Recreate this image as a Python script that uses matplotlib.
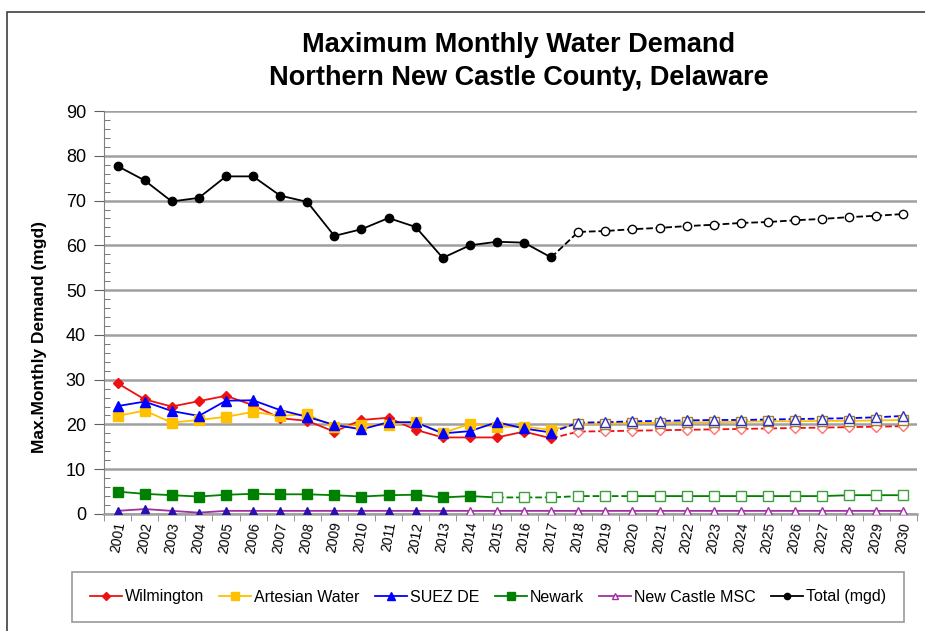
import numpy as np
import matplotlib
matplotlib.use("Agg")
import matplotlib.pyplot as plt
from matplotlib.patches import Rectangle
from matplotlib.ticker import MultipleLocator

plt.rcParams["font.family"] = ["Liberation Sans", "DejaVu Sans"]

years = [str(y) for y in range(2001, 2031)]

# 2001-2017 reported, 2018-2030 projected
wilmington = [29.2, 25.6, 24.0, 25.2, 26.4, 24.3, 21.4, 20.8, 18.4, 21.0, 21.5, 18.8, 17.1, 17.1, 17.1,
              18.4, 16.9, 18.4, 18.5, 18.6, 18.7, 18.8, 18.9, 19.0, 19.1, 19.2, 19.3, 19.4, 19.5, 19.6]
artesian = [21.9, 23.1, 20.4, 21.0, 21.7, 22.8, 21.9, 22.3, 19.4, 19.9, 19.9, 20.6, 18.1, 20.1, 19.5,
            19.5, 18.8, 20.1, 20.2, 20.3, 20.4, 20.5, 20.5, 20.6, 20.7, 20.7, 20.8, 20.8, 20.9, 21.0]
suez = [24.1, 25.1, 23.0, 21.9, 25.3, 25.4, 23.2, 21.7, 19.9, 18.9, 20.5, 20.5, 18.0, 18.5, 20.5,
        19.1, 18.2, 20.4, 20.5, 20.7, 20.8, 20.9, 21.0, 21.0, 21.1, 21.2, 21.3, 21.4, 21.6, 21.9]
newark = [5.0, 4.5, 4.2, 3.9, 4.3, 4.5, 4.4, 4.4, 4.2, 3.9, 4.2, 4.3, 3.7, 4.0, 3.7,
          3.7, 3.7, 4.0, 4.0, 4.0, 4.0, 4.0, 4.0, 4.0, 4.0, 4.0, 4.0, 4.2, 4.2, 4.2]
new_castle = [0.7, 1.1, 0.7, 0.3, 0.7, 0.7, 0.7, 0.7, 0.7, 0.7, 0.7, 0.7, 0.7, 0.7, 0.7,
              0.7, 0.7, 0.7, 0.7, 0.7, 0.7, 0.7, 0.7, 0.7, 0.7, 0.7, 0.7, 0.7, 0.7, 0.7]
total = [77.7, 74.5, 69.8, 70.6, 75.4, 75.4, 71.1, 69.7, 62.1, 63.6, 66.1, 64.1, 57.2, 60.0, 60.8,
         60.6, 57.3, 63.0, 63.2, 63.6, 63.9, 64.3, 64.6, 65.0, 65.2, 65.6, 65.9, 66.3, 66.6, 67.0]

x = np.arange(len(years))

fig = plt.figure(figsize=(9.25, 6.31), dpi=100)
fig.patches.append(Rectangle((7 / 925, -0.1), 1.2, 1 - 12 / 631 + 0.1, transform=fig.transFigure,
                             fill=False, edgecolor="#404040", linewidth=1.2))
ax = fig.add_axes([104 / 925, 1 - 514 / 631, 813 / 925, 403 / 631])


def draw(vals, color, marker, ms, split, proj_color, ls_parts, label, fill_color=None):
    """split = index of first open (projected) marker; ls_parts = [(start, end, linestyle)]"""
    v = np.array(vals)
    for s, e, ls in ls_parts:
        ax.plot(x[s:e + 1], v[s:e + 1], color=color, ls=ls, lw=1.3, zorder=3)
    ax.plot(x[:split], v[:split], ls="none", marker=marker, ms=ms,
            color=fill_color or color, mec=fill_color or color, zorder=4)
    ax.plot(x[split:], v[split:], ls="none", marker=marker, ms=ms,
            mfc="white", mec=proj_color, mew=1.0, zorder=4)
    ax.plot([], [], color=color, marker=marker, ms=ms * 0.75, lw=1.3, label=label,
            mfc=(fill_color or color) if label != "New Castle MSC" else "white")


n = len(years)
draw(wilmington, "#ee1111", "D", 5, 17, "#ff7070", [(0, 16, "-"), (16, n - 1, "--")], "Wilmington")
draw(artesian, "#ffc000", "s", 7, 17, "#a08030", [(0, n - 1, "-")], "Artesian Water")
draw(suez, "#0000ff", "^", 7, 17, "#3030c0", [(0, 16, "-"), (16, n - 1, "--")], "SUEZ DE")
draw(newark, "#008000", "s", 7, 14, "#40a040", [(0, 14, "-"), (14, 19, "--"), (19, n - 1, "-")], "Newark")
draw(new_castle, "#a030a0", "^", 6, 13, "#a030a0", [(0, n - 1, "-")], "New Castle MSC",
     fill_color="#2a10b0")
draw(total, "#000000", "o", 6, 17, "#000000", [(0, 16, "-"), (16, n - 1, "--")], "Total (mgd)")

ax.set_xlim(-0.5, n - 0.5)
ax.set_ylim(0, 90)
ax.yaxis.set_major_locator(MultipleLocator(10))
ax.yaxis.set_minor_locator(MultipleLocator(2))
ax.grid(axis="y", which="major", color="#a0a0a0", lw=1.8, zorder=1)
ax.set_xticks(x)
ax.set_xticklabels(years, rotation=80, fontsize=10)
ax.set_xticks(np.arange(-0.5, n, 1), minor=True)
ax.tick_params(axis="x", which="major", length=0, pad=5)
ax.tick_params(axis="x", which="minor", length=5, direction="out", color="#808080")
ax.tick_params(axis="y", which="major", length=7, direction="out", labelsize=13, color="#606060",
               pad=6)
ax.tick_params(axis="y", which="minor", length=4, direction="in", color="#606060")
for side in ["top", "right"]:
    ax.spines[side].set_visible(False)
ax.spines["left"].set_color("#808080")
ax.spines["bottom"].set_color("#a0a0a0")
ax.spines["bottom"].set_linewidth(1.8)

ax.set_ylabel("Max.Monthly Demand (mgd)", fontsize=12.5, fontweight="bold")
ax.yaxis.set_label_coords(-57 / 813, (514 - 337) / 403)
fig.text(519 / 925, 1 - 45 / 631, "Maximum Monthly Water Demand",
         ha="center", va="center", fontsize=19.5, fontweight="bold")
fig.text(519 / 925, 1 - 78 / 631, "Northern New Castle County, Delaware",
         ha="center", va="center", fontsize=19.5, fontweight="bold")

leg = fig.legend(loc="center", bbox_to_anchor=(488 / 925, 1 - 597 / 631), ncol=6, fontsize=11.5,
                 frameon=True, fancybox=False, edgecolor="#808080", handlelength=2.0,
                 handletextpad=0.2, columnspacing=0.95, borderpad=1.1)
leg.get_frame().set_linewidth(1.2)

fig.savefig("out.png", dpi=100)
